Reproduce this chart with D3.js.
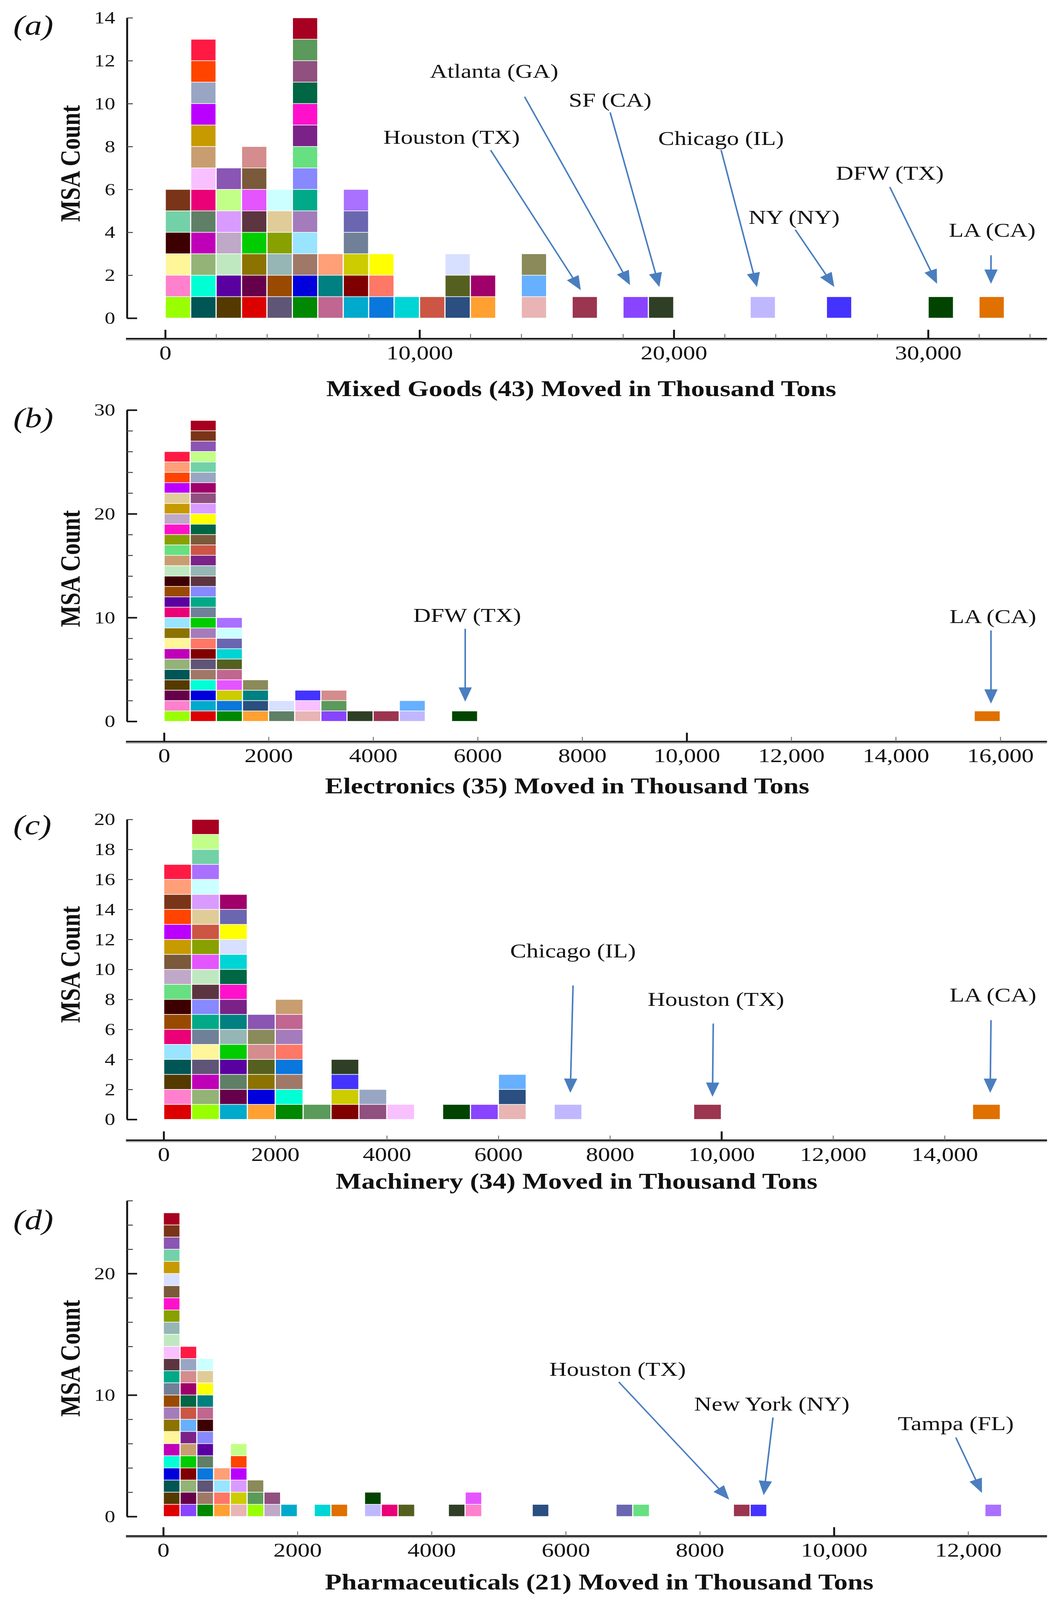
<!DOCTYPE html>
<html>
<head>
<meta charset="utf-8">
<script src="https://cdn.jsdelivr.net/npm/d3@7"></script>
<style>
  html, body { margin: 0; padding: 0; background: #fff; overflow: hidden; }
  #fig { display: block; width: 100vw; height: 100vh; }
  text { font-family: "Liberation Serif", "Times New Roman", serif; fill: #111; }
</style>
</head>
<body>
<svg id="fig"></svg>
<script>
// ---------- data: one square per MSA, stacked in bins ----------

// (a) Mixed Goods (43), 1000 kt bins
var mixedBins = [0, 1000, 2000, 3000, 4000, 5000, 6000, 7000, 8000, 9000, 10000, 11000, 12000, 14000, 16000, 18000, 19000, 23000, 26000, 30000, 32000];
var mixedCounts = [6, 13, 7, 8, 6, 14, 3, 6, 3, 1, 1, 3, 2, 3, 1, 1, 1, 1, 1, 1, 1];
var mixedColors = [
  ["#99ff00", "#ff80cc", "#fff599", "#3d0000", "#73d1a8", "#7a3518"],
  ["#005555", "#00ffd5", "#94b376", "#c000b8", "#5f7f66", "#ea0077", "#f9c0ff", "#c89e70", "#c79a00", "#bb00ff", "#98a6c4", "#ff4400", "#ff1a44"],
  ["#553a00", "#5a00a0", "#c0e8c0", "#c0a8c8", "#d99bff", "#c2ff88", "#8a55b3"],
  ["#dd0000", "#66004a", "#8c7300", "#00cc00", "#5c3540", "#e455ff", "#7a5a3a", "#d48c8c"],
  ["#5f5577", "#9a4a00", "#96b5b5", "#88a000", "#e0cc99", "#ccffff"],
  ["#008800", "#0000dd", "#a07868", "#99e4ff", "#a57cbb", "#00aa88", "#8888ff", "#66e080", "#7a2288", "#ff11cc", "#006644", "#905080", "#5a9a5a", "#a80020"],
  ["#c06690", "#008080", "#ff9f77"],
  ["#00aacc", "#800000", "#cccc00", "#708099", "#6a66b0", "#aa70ff"],
  ["#0a77dd", "#ff7766", "#ffff00"],
  ["#00d5d5"],
  ["#cc5544"],
  ["#2a4f80", "#556020", "#d8e0ff"],
  ["#ffa030", "#a0006a"],
  ["#e8b4b4", "#66b0ff", "#8a8a5a"],
  ["#9b3550"], ["#8844ff"], ["#2f3f25"], ["#c0b8ff"], ["#4433ff"], ["#004400"], ["#e07000"]
];
var mixedCallouts = ["Atlanta (GA)", "SF (CA)", "Houston (TX)", "Chicago (IL)", "DFW (TX)", "NY (NY)", "LA (CA)"];

// (b) Electronics (35), 500 kt bins
var elecBins = [0, 500, 1000, 1500, 2000, 2500, 3000, 3500, 4000, 4500, 5500, 15500];
var elecCounts = [26, 29, 10, 4, 2, 3, 3, 1, 1, 2, 1, 1];
var elecColors = [
  ["#99ff00", "#ff80cc", "#66004a", "#553a00", "#005555", "#94b376", "#c000b8", "#fff599", "#8c7300", "#99e4ff", "#ea0077", "#5a00a0", "#9a4a00", "#3d0000", "#c0e8c0", "#c89e70", "#66e080", "#88a000", "#ff11cc", "#c0a8c8", "#c79a00", "#e0cc99", "#bb00ff", "#ff4400", "#ff9f77", "#ff1a44"],
  ["#dd0000", "#00aacc", "#0000dd", "#00ffd5", "#a07868", "#5f5577", "#800000", "#ff7766", "#a57cbb", "#00cc00", "#708099", "#00aa88", "#8888ff", "#5c3540", "#96b5b5", "#7a2288", "#cc5544", "#7a5a3a", "#006644", "#ffff00", "#d99bff", "#905080", "#a0006a", "#98a6c4", "#73d1a8", "#c2ff88", "#8a55b3", "#7a3518", "#a80020"],
  ["#008800", "#0a77dd", "#cccc00", "#e455ff", "#c06690", "#556020", "#00d5d5", "#6a66b0", "#ccffff", "#aa70ff"],
  ["#ffa030", "#2a4f80", "#008080", "#8a8a5a"],
  ["#5f7f66", "#d8e0ff"],
  ["#e8b4b4", "#f9c0ff", "#4433ff"],
  ["#8844ff", "#5a9a5a", "#d48c8c"],
  ["#2f3f25"], ["#9b3550"], ["#c0b8ff", "#66b0ff"], ["#004400"], ["#e07000"]
];
var elecCallouts = ["DFW (TX)", "LA (CA)"];

// (c) Machinery (34), 500 kt bins
var machBins = [0, 500, 1000, 1500, 2000, 2500, 3000, 3500, 4000, 5000, 5500, 6000, 7000, 9500, 14500];
var machCounts = [17, 20, 15, 7, 8, 1, 4, 2, 1, 1, 1, 3, 1, 1, 1];
var machColors = [
  ["#dd0000", "#ff80cc", "#553a00", "#005555", "#99e4ff", "#ea0077", "#9a4a00", "#3d0000", "#66e080", "#c0a8c8", "#7a5a3a", "#c79a00", "#bb00ff", "#ff4400", "#7a3518", "#ff9f77", "#ff1a44"],
  ["#99ff00", "#94b376", "#c000b8", "#5f5577", "#fff599", "#708099", "#00aa88", "#8888ff", "#5c3540", "#c0e8c0", "#e455ff", "#88a000", "#cc5544", "#e0cc99", "#d99bff", "#ccffff", "#aa70ff", "#73d1a8", "#c2ff88", "#a80020"],
  ["#00aacc", "#66004a", "#5f7f66", "#5a00a0", "#00cc00", "#96b5b5", "#008080", "#7a2288", "#ff11cc", "#006644", "#00d5d5", "#d8e0ff", "#ffff00", "#6a66b0", "#a0006a"],
  ["#ffa030", "#0000dd", "#8c7300", "#556020", "#d48c8c", "#8a8a5a", "#8a55b3"],
  ["#008800", "#00ffd5", "#a07868", "#0a77dd", "#ff7766", "#a57cbb", "#c06690", "#c89e70"],
  ["#5a9a5a"],
  ["#800000", "#cccc00", "#4433ff", "#2f3f25"],
  ["#905080", "#98a6c4"],
  ["#f9c0ff"], ["#004400"], ["#8844ff"], ["#e8b4b4", "#2a4f80", "#66b0ff"], ["#c0b8ff"], ["#9b3550"], ["#e07000"]
];
var machCallouts = ["Chicago (IL)", "Houston (TX)", "LA (CA)"];

// (d) Pharmaceuticals (21), 250 kt bins
var pharmBins = [0, 250, 500, 750, 1000, 1250, 1500, 1750, 2250, 2500, 3000, 3250, 3500, 4250, 4500, 5500, 6750, 7000, 8500, 8750, 12250];
var pharmCounts = [25, 14, 13, 4, 6, 3, 2, 1, 1, 1, 2, 1, 1, 1, 2, 1, 1, 1, 1, 1, 1];
var pharmColors = [
  ["#dd0000", "#553a00", "#005555", "#0000dd", "#00ffd5", "#c000b8", "#fff599", "#8c7300", "#a57cbb", "#9a4a00", "#708099", "#00aa88", "#5c3540", "#f9c0ff", "#c0e8c0", "#96b5b5", "#88a000", "#ff11cc", "#7a5a3a", "#d8e0ff", "#c79a00", "#73d1a8", "#8a55b3", "#7a3518", "#a80020"],
  ["#8844ff", "#66004a", "#94b376", "#800000", "#00cc00", "#c89e70", "#7a2288", "#66b0ff", "#cc5544", "#006644", "#a0006a", "#d48c8c", "#98a6c4", "#ff1a44"],
  ["#008800", "#a07868", "#5f5577", "#0a77dd", "#5f7f66", "#5a00a0", "#8888ff", "#3d0000", "#c06690", "#008080", "#ffff00", "#e0cc99", "#ccffff"],
  ["#ffa030", "#ff7766", "#99e4ff", "#ff9f77"],
  ["#e8b4b4", "#cccc00", "#d99bff", "#bb00ff", "#ff4400", "#c2ff88"],
  ["#99ff00", "#5a9a5a", "#8a8a5a"],
  ["#c0a8c8", "#905080"],
  ["#00aacc"], ["#00d5d5"], ["#e07000"], ["#c0b8ff", "#004400"], ["#ea0077"], ["#556020"],
  ["#2f3f25"], ["#ff80cc", "#e455ff"], ["#2a4f80"], ["#6a66b0"], ["#66e080"], ["#9b3550"], ["#4433ff"], ["#aa70ff"]
];
var pharmCallouts = ["Houston (TX)", "New York (NY)", "Tampa (FL)"];

// ---------- layout (figure drawn in 2706 x 4944 units, fitted to the window) ----------
var W = 2706, H = 4944;
var AX_L = 322, AX_R = 2680, Y_AX = 325;
var ARROW = "#4a7ebf";

// callout placement in data units: label (lx, ly), arrow from (sx, sy) to tip (ex, ey)
var panels = [
  { tag: "(a)", title: "Mixed Goods (43) Moved in Thousand Tons",
    bins: mixedBins, counts: mixedCounts, colors: mixedColors, binW: 1000,
    x0: 423, k: 0.0651, yMax: 14, yTop: 55, yBot: 983,
    yLabels: d3.range(0, 15, 2), yMinor: d3.range(0, 15, 2), yMajor: [0],
    xLabels: [0, 10000, 20000, 30000], xMinor: d3.range(0, 34001, 2000), xMajor: [0, 10000, 20000, 30000],
    axisY: 1046, titleX: 1488, titleY: 1200, tagY: 78, msaY: 505,
    notes: [
      { name: mixedCallouts[0], lx: 12934, ly: 11.52, sx: 14132, sy: 10.32, ex: 18280, ey: 1.54 },
      { name: mixedCallouts[1], lx: 17496, ly: 10.17, sx: 17496, sy: 9.59, ex: 19432, ey: 1.45 },
      { name: mixedCallouts[2], lx: 11260, ly: 8.45, sx: 12796, sy: 7.83, ex: 16344, ey: 1.30 },
      { name: mixedCallouts[3], lx: 21859, ly: 8.39, sx: 21859, sy: 7.84, ex: 23272, ey: 1.45 },
      { name: mixedCallouts[4], lx: 28495, ly: 6.77, sx: 28495, sy: 6.11, ex: 30353, ey: 1.60 },
      { name: mixedCallouts[5], lx: 24731, ly: 4.72, sx: 24777, sy: 4.12, ex: 26313, ey: 1.45 },
      { name: mixedCallouts[6], lx: 32519, ly: 4.12, sx: 32473, sy: 2.93, ex: 32473, ey: 1.60 }
    ] },
  { tag: "(b)", title: "Electronics (35) Moved in Thousand Tons",
    bins: elecBins, counts: elecCounts, colors: elecColors, binW: 500,
    x0: 420, k: 0.1338, yMax: 30, yTop: 1267, yBot: 2229,
    yLabels: [0, 10, 20, 30], yMinor: d3.range(0, 31, 2), yMajor: [0, 10, 20, 30],
    xLabels: d3.range(0, 16001, 2000), xMinor: d3.range(0, 16001, 2000), xMajor: [0, 10000],
    axisY: 2291, titleX: 1452, titleY: 2428, tagY: 1290, msaY: 1757,
    notes: [
      { name: elecCallouts[0], lx: 5800, ly: 10.26, sx: 5762, sy: 8.92, ex: 5762, ey: 1.90 },
      { name: elecCallouts[1], lx: 15859, ly: 10.13, sx: 15822, sy: 8.76, ex: 15822, ey: 1.71 }
    ] },
  { tag: "(c)", title: "Machinery (34) Moved in Thousand Tons",
    bins: machBins, counts: machCounts, colors: machColors, binW: 500,
    x0: 419, k: 0.1428, yMax: 20, yTop: 2532, yBot: 3459,
    yLabels: d3.range(0, 21, 2), yMinor: d3.range(0, 21, 2), yMajor: [0],
    xLabels: d3.range(0, 14001, 2000), xMinor: d3.range(0, 14001, 2000), xMajor: [0, 10000],
    axisY: 3523, titleX: 1476, titleY: 3650, tagY: 2548, msaY: 2980,
    notes: [
      { name: machCallouts[0], lx: 7339, ly: 11.26, sx: 7339, sy: 8.93, ex: 7290, ey: 1.77 },
      { name: machCallouts[1], lx: 9902, ly: 8.03, sx: 9853, sy: 6.39, ex: 9839, ey: 1.51 },
      { name: machCallouts[2], lx: 14867, ly: 8.31, sx: 14832, sy: 6.62, ex: 14818, ey: 1.77 }
    ] },
  { tag: "(d)", title: "Pharmaceuticals (21) Moved in Thousand Tons",
    bins: pharmBins, counts: pharmCounts, colors: pharmColors, binW: 250,
    x0: 418, k: 0.1717, yMax: 26, yTop: 3710, yBot: 4686,
    yLabels: [0, 10, 20], yMinor: d3.range(0, 27, 2), yMajor: [0, 10, 20],
    xLabels: d3.range(0, 12001, 2000), xMinor: d3.range(0, 12001, 2000), xMajor: [0, 10000],
    axisY: 4746, titleX: 1534, titleY: 4888, tagY: 3768, msaY: 4197,
    notes: [
      { name: pharmCallouts[0], lx: 6774, ly: 12.14, sx: 6791, sy: 11.08, ex: 8439, ey: 1.38 },
      { name: pharmCallouts[1], lx: 9074, ly: 9.29, sx: 9091, sy: 8.15, ex: 8952, ey: 1.76 },
      { name: pharmCallouts[2], lx: 11817, ly: 7.67, sx: 11817, sy: 6.50, ex: 12207, ey: 1.94 }
    ] }
];

// the window can be shorter than the figure, so map the full figure onto it
var svg = d3.select("#fig")
  .attr("viewBox", "0 0 " + W + " " + H)
  .attr("preserveAspectRatio", "none");
svg.append("rect").attr("width", W).attr("height", H).attr("fill", "#fff");

var fmtX = function (v) { return v >= 10000 ? d3.format(",")(v) : String(v); };

panels.forEach(drawPanel);

function drawPanel(p) {
  var x = d3.scaleLinear()
    .domain([(AX_L - p.x0) / p.k, (AX_R - p.x0) / p.k])
    .range([AX_L, AX_R]);
  var y = d3.scaleLinear().domain([0, p.yMax]).range([p.yBot, p.yTop]);

  var g = svg.append("g");

  // stacked squares, one per MSA
  var cells = [];
  p.bins.forEach(function (b, i) {
    d3.range(p.counts[i]).forEach(function (j) {
      cells.push({ b: b, j: j, c: p.colors[i][j] });
    });
  });
  g.append("g").selectAll("rect").data(cells).enter().append("rect")
    .attr("x", function (d) { return x(d.b) + 1.5; })
    .attr("width", function (d) { return x(d.b + p.binW) - x(d.b) - 3; })
    .attr("y", function (d) { return y(d.j + 1) + 1; })
    .attr("height", function (d) { return y(d.j) - y(d.j + 1) - 2; })
    .attr("fill", function (d) { return d.c; });

  // y axis
  var ya = g.append("g").attr("transform", "translate(" + Y_AX + ",0)");
  ya.call(d3.axisLeft(y).tickValues(p.yLabels).tickSize(0).tickPadding(30).tickFormat(d3.format("d")));
  ya.select(".domain").attr("stroke", "#1a1a1a").attr("stroke-width", 5);
  ya.selectAll("text").attr("font-size", 54).attr("font-family", "Liberation Serif").attr("fill", "#111");
  var ym = g.append("g").attr("transform", "translate(" + Y_AX + ",0)")
    .call(d3.axisRight(y).tickValues(p.yMinor).tickSize(15).tickFormat(""));
  ym.select(".domain").remove();
  ym.selectAll("line").attr("stroke", "#444").attr("stroke-width", 3);
  var yM = g.append("g").attr("transform", "translate(" + Y_AX + ",0)")
    .call(d3.axisRight(y).tickValues(p.yMajor).tickSize(26).tickFormat(""));
  yM.select(".domain").remove();
  yM.selectAll("line").attr("stroke", "#1a1a1a").attr("stroke-width", 5);

  // x axis (separate line below the plot, ticks pointing up)
  g.append("line")
    .attr("x1", AX_L).attr("x2", AX_R)
    .attr("y1", p.axisY + 5).attr("y2", p.axisY + 5)
    .attr("stroke", "#a8a8a8").attr("stroke-width", 3);
  var xa = g.append("g").attr("transform", "translate(0," + p.axisY + ")");
  xa.call(d3.axisBottom(x).tickValues(p.xLabels).tickSize(0).tickPadding(20).tickFormat(fmtX));
  xa.select(".domain").attr("stroke", "#1a1a1a").attr("stroke-width", 5);
  xa.selectAll("text").attr("font-size", 62).attr("font-family", "Liberation Serif").attr("fill", "#111");
  var xm = g.append("g").attr("transform", "translate(0," + p.axisY + ")")
    .call(d3.axisBottom(x).tickValues(p.xMinor).tickSize(-14).tickFormat(""));
  xm.select(".domain").remove();
  xm.selectAll("line").attr("stroke", "#777").attr("stroke-width", 2.5);
  var xM = g.append("g").attr("transform", "translate(0," + p.axisY + ")")
    .call(d3.axisBottom(x).tickValues(p.xMajor).tickSize(-27).tickFormat(""));
  xM.select(".domain").remove();
  xM.selectAll("line").attr("stroke", "#1a1a1a").attr("stroke-width", 5);

  // titles
  g.append("text")
    .attr("x", p.titleX).attr("y", p.titleY)
    .attr("text-anchor", "middle").attr("dominant-baseline", "central")
    .attr("font-size", 70).attr("font-weight", "bold")
    .text(p.title);
  g.append("text")
    .attr("transform", "translate(180," + p.msaY + ") rotate(-90)")
    .attr("text-anchor", "middle").attr("dominant-baseline", "central")
    .attr("font-size", 71).attr("font-weight", "bold")
    .text("MSA Count");
  g.append("text")
    .attr("x", 34).attr("y", p.tagY)
    .attr("dominant-baseline", "central")
    .attr("font-size", 88).attr("font-style", "italic")
    .text(p.tag);

  // callouts
  var notes = g.append("g").selectAll("g").data(p.notes).enter().append("g");
  notes.append("text")
    .attr("x", function (d) { return x(d.lx); })
    .attr("y", function (d) { return y(d.ly); })
    .attr("text-anchor", "middle").attr("dominant-baseline", "central")
    .attr("font-size", 62)
    .text(function (d) { return d.name; });
  notes.each(function (d) {
    var x1 = x(d.sx), y1 = y(d.sy), x2 = x(d.ex), y2 = y(d.ey);
    var a = Math.atan2(y2 - y1, x2 - x1);
    var len = 44, hw = 17;
    var bx = x2 - len * Math.cos(a), by = y2 - len * Math.sin(a);
    var px = -Math.sin(a), py = Math.cos(a);
    var sel = d3.select(this);
    sel.append("line")
      .attr("x1", x1).attr("y1", y1)
      .attr("x2", x2 - (len - 4) * Math.cos(a)).attr("y2", y2 - (len - 4) * Math.sin(a))
      .attr("stroke", ARROW).attr("stroke-width", 4);
    sel.append("path")
      .attr("d", "M" + x2 + "," + y2 +
        "L" + (bx + hw * px) + "," + (by + hw * py) +
        "L" + (bx - hw * px) + "," + (by - hw * py) + "Z")
      .attr("fill", ARROW);
  });
}
</script>
</body>
</html>
